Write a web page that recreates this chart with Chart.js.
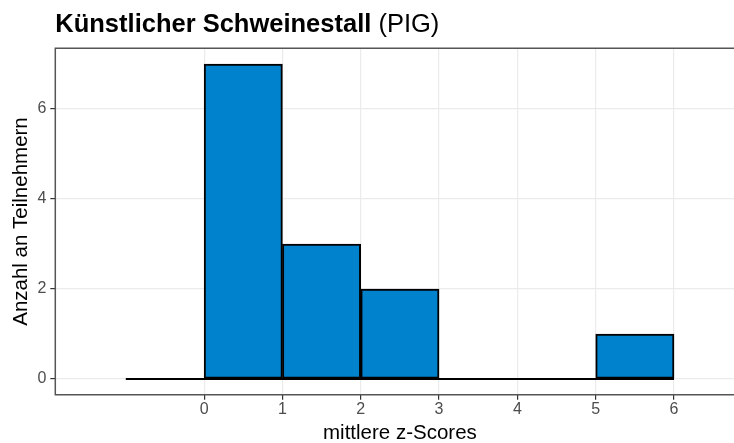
<!DOCTYPE html>
<html>
<head>
<meta charset="utf-8">
<script src="https://cdn.jsdelivr.net/npm/chart.js@4/dist/chart.umd.min.js"></script>
<style>
  html, body { margin: 0; padding: 0; background: #fff; overflow: hidden; width: 734px; height: 443px; }
  #c { display: block; }
</style>
</head>
<body>
<canvas id="c" width="752" height="443" style="width:752px;height:443px"></canvas>
<script>
// ---- data ----
const titleBold = "Künstlicher Schweinestall";
const titleRest = " (PIG)";
const xTitle = "mittlere z-Scores";
const yTitle = "Anzahl an Teilnehmern";
const binEdges = [-1, 0, 1, 2, 3, 4, 5, 6];
const counts = [0, 7, 3, 2, 0, 0, 1];
const xTicks = [0, 1, 2, 3, 4, 5, 6];
const yTicks = [0, 2, 4, 6];

const FONT = "'Liberation Sans', Arial, sans-serif";

const barData = counts.map((c, i) => ({ x: (binEdges[i] + binEdges[i + 1]) / 2, y: c }));
const baseLine = binEdges.map(e => ({ x: e, y: 0 }));

const titlePlugin = {
  id: 'mixedTitle',
  afterDraw(chart) {
    const ctx = chart.ctx;
    ctx.save();
    ctx.fillStyle = '#000';
    ctx.textBaseline = 'alphabetic';
    ctx.textAlign = 'left';
    const x0 = chart.chartArea.left;
    ctx.font = "bold 25.5px " + FONT;
    ctx.fillText(titleBold, x0, 32);
    const w = ctx.measureText(titleBold).width;
    ctx.font = "25.5px " + FONT;
    ctx.fillText(titleRest, x0 + w, 32);
    ctx.restore();
  }
};

const borderPlugin = {
  id: 'panelBorder',
  afterDatasetsDraw(chart) {
    const { left, top, right, bottom } = chart.chartArea;
    const ctx = chart.ctx;
    ctx.save();
    ctx.strokeStyle = '#555555';
    ctx.lineWidth = 1.5;
    ctx.strokeRect(left, top, right - left, bottom - top);
    ctx.restore();
  }
};

new Chart(document.getElementById('c'), {
  data: {
    datasets: [
      {
        type: 'line',
        data: baseLine,
        borderColor: '#000',
        borderWidth: 2,
        pointRadius: 0,
        order: 2
      },
      {
        type: 'bar',
        data: barData,
        backgroundColor: '#0082CD',
        borderColor: '#000',
        borderWidth: 2,
        borderSkipped: false,
        barPercentage: 1,
        categoryPercentage: 1,
        order: 1
      }
    ]
  },
  options: {
    responsive: false,
    devicePixelRatio: 1,
    animation: false,
    layout: { padding: { top: 48.25, right: 7.5, left: 0, bottom: 0 } },
    plugins: { legend: { display: false }, tooltip: { enabled: false }, title: { display: false } },
    scales: {
      x: {
        type: 'linear',
        offset: false,
        min: -1.9,
        max: 6.9,
        afterBuildTicks: s => { s.ticks = xTicks.map(v => ({ value: v })); },
        afterFit: s => { s.height = 48.25; },
        grid: { offset: false, color: '#EBEBEB', lineWidth: 1.2, tickColor: '#333333', tickLength: 5, tickWidth: 1.2 },
        border: { display: false },
        ticks: { color: '#4D4D4D', font: { family: FONT, size: 16, lineHeight: 1 }, padding: 2, maxRotation: 0, autoSkip: false, callback: v => String(v) },
        title: { display: true, text: xTitle, color: '#000', font: { family: FONT, size: 20.5, lineHeight: 0.9 }, padding: { top: 0, bottom: 0 } }
      },
      y: {
        type: 'linear',
        min: -0.35,
        max: 7.35,
        afterBuildTicks: s => { s.ticks = yTicks.map(v => ({ value: v })); },
        afterFit: s => { s.width = 55.3; },
        grid: { color: '#EBEBEB', lineWidth: 1.2, tickColor: '#333333', tickLength: 5, tickWidth: 1.2 },
        border: { display: false },
        ticks: { color: '#4D4D4D', font: { family: FONT, size: 16 }, padding: 4, callback: v => String(v) },
        title: { display: true, text: yTitle, color: '#000', font: { family: FONT, size: 20.5, lineHeight: 0.9 }, padding: { top: 12, bottom: 0 } }
      }
    }
  },
  plugins: [titlePlugin, borderPlugin]
});
</script>
</body>
</html>
